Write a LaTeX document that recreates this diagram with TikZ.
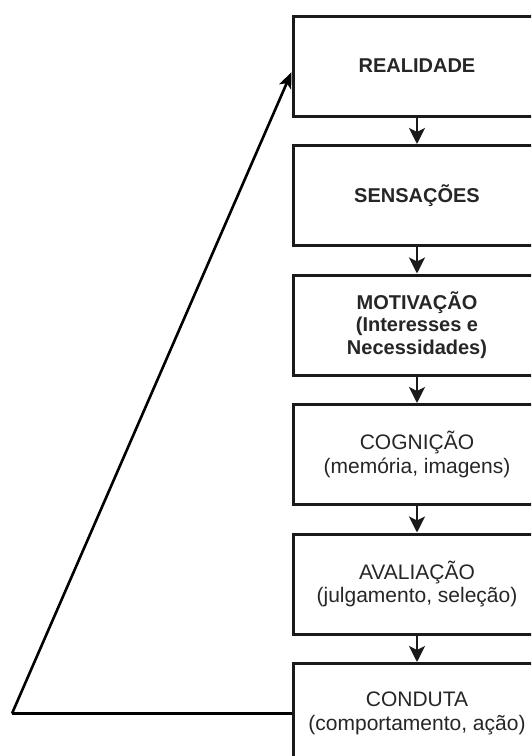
\documentclass[tikz,border=0pt]{standalone}
\usepackage{fontspec}
\setmainfont{Liberation Sans}
\usetikzlibrary{arrows.meta,calc}
\definecolor{boxline}{HTML}{1A1A1A}
\definecolor{txt}{HTML}{262626}
\tikzset{
  stagebox/.style={draw=boxline, line width=3pt, fill=white, minimum width=248pt, minimum height=100pt, align=center, text=txt, inner sep=0pt, font=\fontsize{21pt}{23.5pt}\selectfont},
  boldtxt/.style={font=\fontsize{20pt}{22.5pt}\selectfont\bfseries},
  flow/.style={draw=boxline, line width=2.8pt, -{Stealth[length=16pt, width=16pt, inset=4pt]}},
  loopline/.style={draw=black, line width=2.6pt, line join=miter},
}
\begin{document}
\begin{tikzpicture}[x=1pt,y=-1pt]
\useasboundingbox (0,0) rectangle (531,756);
\clip (0,0) rectangle (531,756);
\node[stagebox, boldtxt] (real) at (417,66) {REALIDADE};
\node[stagebox, boldtxt] (sens) at (417,195.5) {SENSAÇÕES};
\node[stagebox, boldtxt] (motv) at (417,325) {MOTIVAÇÃO\\(Interesses e\\Necessidades)};
\node[stagebox] (cogn) at (417,454.5) {COGNIÇÃO\\(memória, imagens)};
\node[stagebox] (aval) at (417,584) {AVALIAÇÃO\\(julgamento, seleção)};
\node[stagebox] (cond) at (417,713.5) {CONDUTA\\(comportamento, ação)};
\draw[flow] (real) -- (sens);
\draw[flow] (sens) -- (motv);
\draw[flow] (motv) -- (cogn);
\draw[flow] (cogn) -- (aval);
\draw[flow] (aval) -- (cond);
\coordinate (corner) at (12,713.5);
\coordinate (tip) at ($(real.north west)!0.56!(real.south west)$);
\draw[loopline] (cond.west) -- (corner);
\draw[loopline, -{Stealth[length=16pt, width=13pt, inset=4pt]}] (corner) -- (tip);
\end{tikzpicture}
\end{document}
